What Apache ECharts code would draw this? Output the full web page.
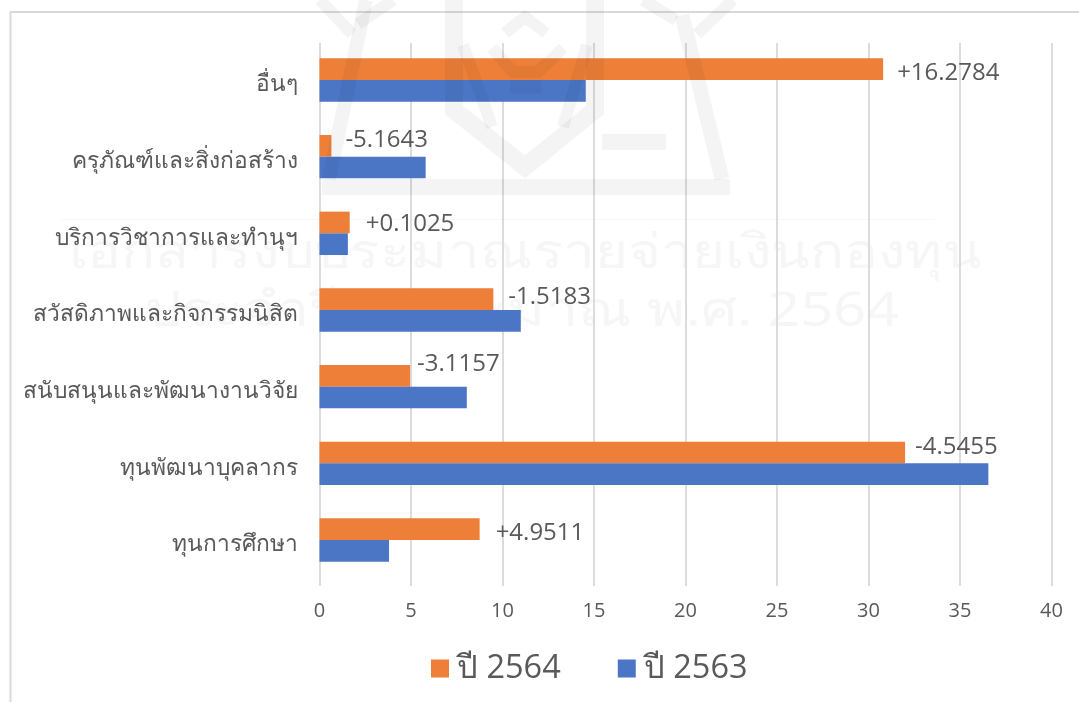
<!DOCTYPE html>
<html>
<head>
<meta charset="utf-8">
<style>
  html, body { margin: 0; padding: 0; background: #fff; }
  #chart { width: 1079px; height: 702px; }
</style>
<script src="https://cdn.jsdelivr.net/npm/echarts@6/dist/echarts.min.js"></script>
</head>
<body>
<div id="chart"></div>
<script>
const categories = ['ทุนการศึกษา', 'ทุนพัฒนาบุคลากร', 'สนับสนุนและพัฒนางานวิจัย', 'สวัสดิภาพและกิจกรรมนิสิต', 'บริการวิชาการและทำนุฯ', 'ครุภัณฑ์และสิ่งก่อสร้าง', 'อื่นๆ'];
const year2564 = [8.75, 32.0, 4.95, 9.5, 1.65, 0.65, 30.8];
const year2563 = [3.8, 36.55, 8.05, 11.0, 1.55, 5.8, 14.55];
const changes = ['+4.9511', '-4.5455', '-3.1157', '-1.5183', '+0.1025', '-5.1643', '+16.2784'];

const fontFamily = '"Open Sans", "Noto Sans", sans-serif';
const textColor = '#595959';
const logoInk = 'rgba(0,0,0,0.042)';

// labels sit by hand in the source chart, so each one gets its own nudge
const labelNudge = [[16, 4], [10, -5], [7, -12], [15, -2], [16, 2], [14, -6], [14, 4]];

// faint logo strokes behind the picture, decoration only
const logoStrokes = [
  { width: 14, points: [[366, 0], [329, 179]] },
  { width: 15, points: [[682, 15], [722, 179]] },
  { width: 12, points: [[320, 0], [352, 34]] },
  { width: 12, points: [[393, 0], [358, 24]] },
  { width: 12, points: [[733, 0], [697, 34]] },
  { width: 12, points: [[643, 0], [676, 20]] },
  { width: 18, points: [[454, 0], [454, 110], [525, 167], [595, 110], [595, 0]] },
  { width: 12, points: [[463, 45], [492, 127]] },
  { width: 12, points: [[587, 45], [563, 127]] },
  { width: 12, points: [[492, 48], [513, 72], [538, 72], [563, 48]] },
  { width: 12, points: [[505, 33], [525, 17], [546, 33]] },
  { width: 13, points: [[510, 87], [541, 87]] }
];

const chart = echarts.init(document.getElementById('chart'));

chart.setOption({
  animation: false,
  backgroundColor: '#fff',
  textStyle: { fontFamily },
  graphic: [
    // frame of the pasted chart, only left and top edges are visible
    { type: 'line', silent: true, z: -1, shape: { x1: 10.5, y1: 12, x2: 10.5, y2: 702 }, style: { stroke: '#d9d9d9', lineWidth: 2 } },
    { type: 'line', silent: true, z: -1, shape: { x1: 10, y1: 12, x2: 1079, y2: 12 }, style: { stroke: '#d9d9d9', lineWidth: 2 } },
    // watermark
    { type: 'line', silent: true, z: -1, shape: { x1: 60, y1: 219.5, x2: 935, y2: 219.5 }, style: { stroke: '#f8f8f8', lineWidth: 1 } },
    { type: 'text', silent: true, z: -1, x: 525, y: 254, scaleX: 1.175, style: { text: 'เอกสารงบประมาณรายจ่ายเงินกองทุน', fill: '#f6f6f6', font: '48px "Noto Sans", sans-serif', textAlign: 'center', textVerticalAlign: 'middle' } },
    { type: 'text', silent: true, z: -1, x: 522, y: 312, scaleX: 1.2, style: { text: 'ประจำปีงบประมาณ พ.ศ. 2564', fill: '#f6f6f6', font: '48px "Noto Sans", sans-serif', textAlign: 'center', textVerticalAlign: 'middle' } },
    { type: 'rect', silent: true, z: 3, shape: { x: 322, y: 179, width: 408, height: 16 }, style: { fill: logoInk } },
    { type: 'rect', silent: true, z: 3, shape: { x: 602, y: 134, width: 64, height: 16 }, style: { fill: logoInk } }
  ].concat(logoStrokes.map((s) => ({
    type: 'polyline',
    silent: true,
    z: 3,
    shape: { points: s.points },
    style: { stroke: logoInk, lineWidth: s.width, fill: 'none' }
  }))),
  legend: {
    data: ['ปี 2564', 'ปี 2563'],
    left: 426,
    top: 647,
    icon: 'rect',
    itemWidth: 18,
    itemHeight: 18,
    itemGap: 57,
    selectedMode: false,
    textStyle: { color: textColor, fontSize: 32.5, fontFamily, padding: [0, 0, 0, 3] }
  },
  // bars and gridlines do not share the same box in the source chart
  grid: [
    { left: 319.5, right: 27.5, top: 41.67, bottom: 123.67 },
    { left: 319.5, right: 27.5, top: 43, bottom: 116 }
  ],
  xAxis: [
    { type: 'value', gridIndex: 0, min: 0, max: 40, interval: 5, show: false },
    {
      type: 'value',
      gridIndex: 1,
      min: 0,
      max: 40,
      interval: 5,
      axisLine: { show: false },
      axisTick: { show: false },
      axisLabel: { color: textColor, fontSize: 20, margin: 15, fontFamily },
      splitLine: { lineStyle: { color: '#dcdcdc', width: 2 } }
    }
  ],
  yAxis: [
    {
      type: 'category',
      gridIndex: 0,
      data: categories,
      axisLine: { show: false },
      axisTick: { show: false },
      // small line box hung from the band centre pushes the text a few px down
      axisLabel: { color: textColor, fontSize: 22.75, margin: 22, fontFamily, verticalAlign: 'top', lineHeight: 10 }
    },
    { type: 'category', gridIndex: 1, data: categories, show: false }
  ],
  series: [
    {
      name: 'ปี 2564',
      type: 'bar',
      barWidth: 21.7,
      barGap: 0,
      itemStyle: { color: '#ed7f38' },
      data: year2564.map((value, i) => ({
        value,
        label: {
          show: true,
          position: 'right',
          distance: 0,
          offset: labelNudge[i],
          formatter: changes[i],
          color: textColor,
          fontSize: 24,
          fontFamily
        }
      }))
    },
    {
      name: 'ปี 2563',
      type: 'bar',
      barWidth: 21.7,
      itemStyle: { color: '#4b76c6' },
      data: year2563
    }
  ]
});
</script>
</body>
</html>
